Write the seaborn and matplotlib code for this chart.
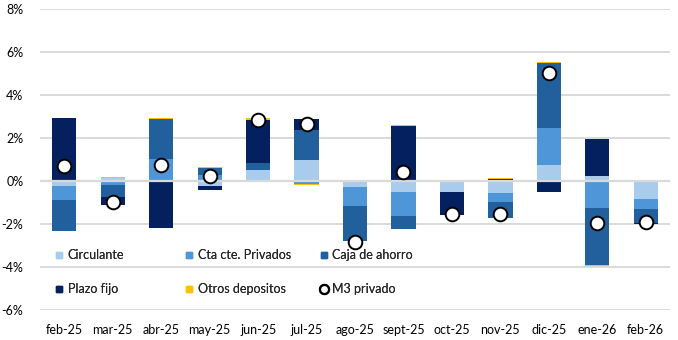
import numpy as np
import pandas as pd
import matplotlib
matplotlib.use("Agg")
import matplotlib.pyplot as plt
from matplotlib.lines import Line2D
from matplotlib.ticker import FuncFormatter
import seaborn as sns

# Monthly contribution to private M3 growth (percentage points)
months = ["feb-25", "mar-25", "abr-25", "may-25", "jun-25", "jul-25", "ago-25",
          "sept-25", "oct-25", "nov-25", "dic-25", "ene-26", "feb-26"]
circulante = [-0.23, 0.16, -0.02, -0.21, 0.51, 0.98, -0.26, -0.50, -0.50, -0.54, 0.74, 0.23, -0.86]
cta_cte = [-0.65, -0.20, 1.02, 0.30, -0.05, -0.15, -0.89, -1.12, 0.00, -0.43, 1.72, -1.26, -0.42]
caja_ahorro = [-1.43, -0.55, 1.86, 0.32, 0.33, 1.40, -1.66, -0.59, 0.05, -0.73, 3.02, -2.65, -0.67]
plazo_fijo = [2.92, -0.38, -2.17, -0.20, 2.02, 0.51, 0.00, 2.57, -1.07, 0.11, -0.50, 1.72, -0.03]
otros = [0.03, 0.03, 0.04, 0.03, 0.05, -0.03, 0.00, 0.03, -0.03, 0.03, 0.05, -0.04, 0.00]
m3_privado = [0.68, -0.97, 0.75, 0.25, 2.86, 2.66, -2.82, 0.42, -1.55, -1.53, 5.02, -1.95, -1.90]

series = [
    ("Circulante", circulante, "#A9CCEC"),
    ("Cta cte. Privados", cta_cte, "#4F96D8"),
    ("Caja de ahorro", caja_ahorro, "#22609D"),
    ("Plazo fijo", plazo_fijo, "#04205E"),
    ("Otros depositos", otros, "#FFC000"),
]

sns.set_theme(style="white")
plt.rcParams["font.family"] = ["Lato", "DejaVu Sans"]
FS = 9

fig = plt.figure(figsize=(6.78, 3.4), dpi=100)
ax = fig.add_axes([40 / 678, 1 - 310 / 340, 630 / 678, 301 / 340])

# Stack positives upward and negatives downward, in series order
pos_base = np.zeros(len(months))
neg_base = np.zeros(len(months))
for name, vals, color in series:
    v = np.asarray(vals, dtype=float)
    bottom = np.where(v >= 0, pos_base, neg_base)
    df = pd.DataFrame({"mes": months, "valor": v})
    sns.barplot(data=df, x="mes", y="valor", order=months, color=color,
                saturation=1, width=0.5, linewidth=0, bottom=bottom,
                errorbar=None, ax=ax, zorder=2)
    pos_base = pos_base + np.where(v >= 0, v, 0)
    neg_base = neg_base + np.where(v < 0, v, 0)

# Zero axis line over the bars
ax.axhline(0, color="#D9D9D9", lw=1.6, zorder=3)

# Total private M3 as white dots
df_m3 = pd.DataFrame({"mes": months, "m3": m3_privado})
sns.pointplot(data=df_m3, x="mes", y="m3", order=months, linestyle="none",
              marker="o", color="black", markerfacecolor="white",
              markeredgecolor="black", markersize=9.8, markeredgewidth=1.4,
              errorbar=None, ax=ax, zorder=5)

ax.set_xlim(-0.5, len(months) - 0.5)
ax.set_ylim(-6, 8)
ax.set_yticks(np.arange(-6, 9, 2))
ax.yaxis.set_major_formatter(FuncFormatter(lambda y, _: f"{y:.0f}%"))
ax.grid(axis="y", color="#D9D9D9", lw=1.4, zorder=0)
ax.grid(axis="x", visible=False)
ax.set_axisbelow(True)
for s in ax.spines.values():
    s.set_visible(False)
ax.set_xlabel("")
ax.set_ylabel("")
ax.tick_params(axis="y", length=0, pad=12, labelsize=FS, colors="#000000")
ax.tick_params(axis="x", length=0, pad=10, labelsize=FS, colors="#000000")

# Legend laid out in three columns of two rows
handles = {name: Line2D([], [], ls="none", marker="s", markersize=5,
                        markerfacecolor=color, markeredgecolor=color)
           for name, _, color in series}
handles["M3 privado"] = Line2D([], [], ls="none", marker="o", markersize=6.5,
                               markerfacecolor="white", markeredgecolor="black",
                               markeredgewidth=1.6)
columns = [(["Circulante", "Plazo fijo"], 55),
           (["Cta cte. Privados", "Otros depositos"], 185),
           (["Caja de ahorro", "M3 privado"], 320)]
for labels, xpx in columns:
    leg = fig.legend([handles[l] for l in labels], labels, loc="center left",
                     bbox_to_anchor=(xpx / 678, 1 - 272 / 340),
                     frameon=False, fontsize=FS, borderpad=0, borderaxespad=0,
                     handlelength=0.7, handletextpad=0.3, labelspacing=1.75)
    fig.add_artist(leg)

fig.savefig("out.png", dpi=100)
